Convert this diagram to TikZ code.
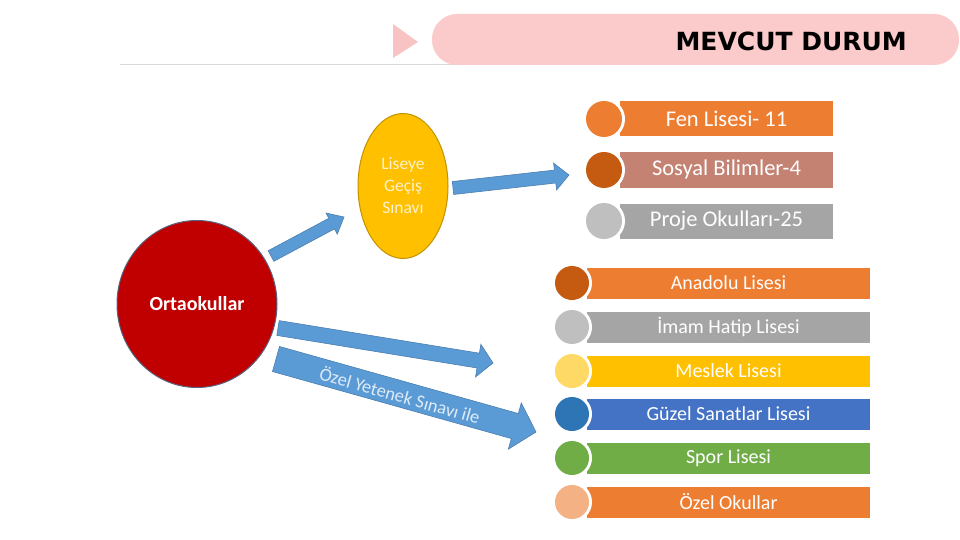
\documentclass[tikz,border=0pt]{standalone}
\usepackage{fontspec}
\setmainfont{Carlito}
\newfontfamily\titlefont{DejaVu Sans}
\usetikzlibrary{calc,shapes.geometric}
\definecolor{pinkfill}{HTML}{FBCACA}
\definecolor{pinktri}{HTML}{F8C3C3}
\definecolor{hline}{HTML}{D9D9D9}
\definecolor{redc}{HTML}{C00000}
\definecolor{redb}{HTML}{56627E}
\definecolor{yel}{HTML}{FFC000}
\definecolor{yelb}{HTML}{C29200}
\definecolor{yeltext}{HTML}{FFF2CC}
\definecolor{blue1}{HTML}{5B9BD5}
\definecolor{blue1b}{HTML}{4A7EB0}
\definecolor{ora}{HTML}{ED7D31}
\definecolor{rust}{HTML}{C55A11}
\definecolor{rosy}{HTML}{C48272}
\definecolor{grey1}{HTML}{A5A5A5}
\definecolor{grey2}{HTML}{BFBFBF}
\definecolor{gold2}{HTML}{FFD966}
\definecolor{blu2}{HTML}{4472C4}
\definecolor{blu3}{HTML}{2E75B6}
\definecolor{grn}{HTML}{70AD47}
\definecolor{peach}{HTML}{F4B183}
\definecolor{arrtext}{HTML}{DEEBF7}
\newcommand{\blockarrow}[5]{%
  \coordinate (hb) at ($(#2)!#5!(#1)$);
  \filldraw[fill=blue1, draw=blue1b, line width=0.6pt, line join=miter]
    ($(#1)!#3!90:(#2)$) -- ($(hb)!#3!90:(#2)$) -- ($(hb)!#4!90:(#2)$) -- (#2)
    -- ($(hb)!#4!-90:(#2)$) -- ($(hb)!#3!-90:(#2)$) -- ($(#1)!#3!-90:(#2)$) -- cycle;
}
\tikzset{
  x=1pt, y=-1pt,
  topbar/.style={rectangle, inner sep=0pt, minimum width=213pt, minimum height=35pt, text=white, font=\fontsize{22.5}{26}\selectfont},
  lowbar/.style={rectangle, inner sep=0pt, minimum width=283pt, minimum height=31pt, text=white, font=\fontsize{20}{24}\selectfont},
  ring/.style={circle, fill=white, inner sep=0pt, minimum size=#1},
  dot/.style={circle, inner sep=0pt, minimum size=#1},
}
\begin{document}
\begin{tikzpicture}
\useasboundingbox (0,0) rectangle (960,540);
% header
\draw[hline, line width=1pt] (120,65) -- (915,65);
\node[rectangle, rounded corners=25pt, fill=pinkfill, minimum width=527pt, minimum height=51pt, inner sep=0pt] (pill) at (695.5,39.5) {};
\fill[pinktri] (393,24) -- (418,42) -- (393,58) -- cycle;
\node[anchor=east, inner sep=0pt, font=\titlefont\bfseries\fontsize{25}{28}\selectfont] (title) at (907,41) {MEVCUT DURUM};
% main nodes
\node[ellipse, fill=redc, draw=redb, line width=1pt, minimum width=160pt, minimum height=167pt, inner sep=0pt, text=white, font=\bfseries\fontsize{20}{22}\selectfont] (orta) at (197,304) {Ortaokullar};
\node[ellipse, fill=yel, draw=yelb, line width=1pt, minimum width=90pt, minimum height=145pt, inner sep=0pt, text=yeltext, align=center, font=\fontsize{17.5}{22}\selectfont] (lgs) at (403,186) {Liseye\\Geçiş\\Sınavı};
% arrows
\coordinate (a1s) at (271,256); \coordinate (a1e) at (344,217);
\blockarrow{a1s}{a1e}{6pt}{12pt}{14pt}
\coordinate (a2s) at (453,188); \coordinate (a2e) at (569,175);
\blockarrow{a2s}{a2e}{6.5pt}{13.5pt}{14pt}
\coordinate (a3s) at (278,328); \coordinate (a3e) at (493,363);
\blockarrow{a3s}{a3e}{7.5pt}{16.5pt}{15pt}
\coordinate (a4s) at (276,359); \coordinate (a4e) at (536,432);
\blockarrow{a4s}{a4e}{13pt}{24pt}{22pt}
\node[rotate=-15.7, text=arrtext, inner sep=0pt, font=\fontsize{18.5}{20}\selectfont] (ozt) at (400,395) {Özel Yetenek Sınavı ile};
% top group
\node[topbar, fill=ora] (fen) at (726.5,119) {Fen Lisesi- 11};
\node[ring=42pt] at (604,119) {};
\node[dot=36pt, fill=ora] (fenc) at (604,119) {};
\node[topbar, fill=rosy] (sos) at (726.5,170) {Sosyal Bilimler-4};
\node[ring=42pt] at (604,170) {};
\node[dot=36pt, fill=rust] (sosc) at (604,170) {};
\node[topbar, fill=grey1] (pro) at (726.5,221) {Proje Okulları-25};
\node[ring=42pt] at (604,221) {};
\node[dot=36pt, fill=grey2] (proc) at (604,221) {};
% lower group
\node[lowbar, fill=ora] (ana) at (728.5,283) {Anadolu Lisesi};
\node[ring=40pt] at (572,283) {};
\node[dot=34pt, fill=rust] (anac) at (572,283) {};
\node[lowbar, fill=grey1] (imam) at (728.5,327) {İmam Hatip Lisesi};
\node[ring=40pt] at (572,327) {};
\node[dot=34pt, fill=grey2] (imamc) at (572,327) {};
\node[lowbar, fill=yel] (mes) at (728.5,371) {Meslek Lisesi};
\node[ring=40pt] at (572,371) {};
\node[dot=34pt, fill=gold2] (mesc) at (572,371) {};
\node[lowbar, fill=blu2] (guz) at (728.5,414) {Güzel Sanatlar Lisesi};
\node[ring=40pt] at (572,414) {};
\node[dot=34pt, fill=blu3] (guzc) at (572,414) {};
\node[lowbar, fill=grn] (spo) at (728.5,458) {Spor Lisesi};
\node[ring=40pt] at (572,458) {};
\node[dot=34pt, fill=grn] (spoc) at (572,458) {};
\node[lowbar, fill=ora] (oze) at (728.5,502) {Özel Okullar};
\node[ring=40pt] at (572,502) {};
\node[dot=34pt, fill=peach] (ozec) at (572,502) {};
\end{tikzpicture}
\end{document}
